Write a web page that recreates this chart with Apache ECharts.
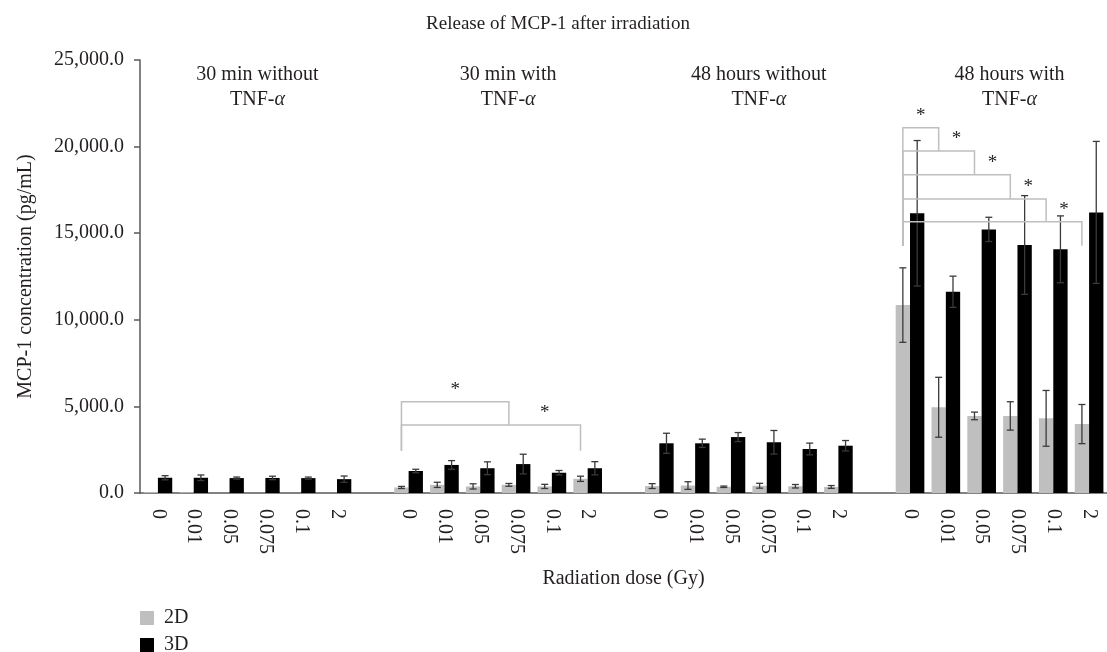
<!DOCTYPE html>
<html>
<head>
<meta charset="utf-8">
<title>Release of MCP-1 after irradiation</title>
<script src="https://cdn.jsdelivr.net/npm/echarts@6/dist/echarts.min.js"></script>
<style>
  html, body { margin: 0; padding: 0; background: #fff; }
  #chart { width: 1107px; height: 652px; }
</style>
</head>
<body>
<div id="chart"></div>
<script>
// doses per group, groups separated by an empty category
var doses = ['0', '0.01', '0.05', '0.075', '0.1', '2'];
var groupNames = ['30 min without', '30 min with', '48 hours without', '48 hours with'];
var yTicks = [0, 5000, 10000, 15000, 20000, 25000];

// 2D cultures (mean, error) per group
var mean2D = [
  [50, 40, 0, 0, 0, 0],
  [320, 470, 380, 470, 380, 820],
  [400, 430, 360, 420, 390, 350],
  [10850, 4950, 4450, 4450, 4310, 3980]
];
var err2D = [
  [0, 0, 0, 0, 0, 0],
  [60, 150, 150, 80, 120, 150],
  [140, 220, 40, 140, 100, 80],
  [2150, 1730, 220, 820, 1610, 1130]
];
// 3D cultures
var mean3D = [
  [880, 880, 860, 870, 860, 800],
  [1270, 1620, 1430, 1670, 1170, 1430],
  [2870, 2870, 3230, 2930, 2540, 2730],
  [16150, 11620, 15220, 14320, 14070, 16200]
];
var err3D = [
  [120, 160, 60, 100, 60, 180],
  [100, 250, 370, 570, 130, 380],
  [580, 240, 260, 680, 340, 300],
  [4200, 900, 700, 2850, 1930, 4100]
];

// significance brackets: [group, fromDose, toDose, top, rightBottom, leftBottom]
var brackets = [
  [1, 0, 3, 5270, 3930, 2440],
  [1, 0, 5, 3930, 2440, 2440],
  [3, 0, 1, 21090, 19750, 14280],
  [3, 0, 2, 19750, 18380, 14280],
  [3, 0, 3, 18380, 16975, 14280],
  [3, 0, 4, 16975, 15660, 14280],
  [3, 0, 5, 15660, 14280, 14280]
];

// build category axis with gaps
var cats = [];
var bars2D = [], bars3D = [], errs = [];
function catIndex(g, d) { return g * 7 + d; }
for (var g = 0; g < 4; g++) {
  for (var d = 0; d < 6; d++) {
    cats.push(doses[d]);
    bars2D.push(mean2D[g][d]);
    bars3D.push(mean3D[g][d]);
    if (err2D[g][d] > 0) errs.push([catIndex(g, d), mean2D[g][d], err2D[g][d], -0.2]);
    errs.push([catIndex(g, d), mean3D[g][d], err3D[g][d], 0.2]);
  }
  if (g < 3) { cats.push(''); bars2D.push(null); bars3D.push(null); }
}

var bracketData = [];
var prevRight = {};
brackets.forEach(function (b) {
  var from = catIndex(b[0], b[1]), to = catIndex(b[0], b[2]);
  var starFrom = prevRight[b[0]] !== undefined ? prevRight[b[0]] : from;
  prevRight[b[0]] = to;
  bracketData.push([from, to, b[3], b[4], b[5], starFrom]);
});

var font = '"Liberation Serif", "DejaVu Serif", serif';
var ink = '#231f20';
var fs = 20;
var chart = echarts.init(document.getElementById('chart'));

var option = {
  animation: false,
  textStyle: { fontFamily: font, color: ink },
  title: {
    text: 'Release of MCP-1 after irradiation',
    left: 553, top: 10, textAlign: 'center',
    textStyle: { fontFamily: font, fontSize: 19, fontWeight: 'normal', color: ink }
  },
  legend: {
    orient: 'vertical', left: 140, top: 608, height: 80, itemGap: 7, padding: 0,
    itemWidth: 14, itemHeight: 14, icon: 'rect',
    textStyle: { fontFamily: font, fontSize: fs, color: ink, padding: [0, 0, 0, 5] },
    data: ['2D', '3D']
  },
  grid: { left: 140, right: -7, top: 60, bottom: 159 },
  xAxis: {
    type: 'category', data: cats,
    name: 'Radiation dose (Gy)', nameLocation: 'middle', nameGap: 76,
    nameTextStyle: { fontFamily: font, fontSize: fs, color: ink },
    axisLine: { lineStyle: { color: '#595959', width: 1.5 } },
    axisTick: { length: 6, lineStyle: { color: '#595959', width: 1.5 } },
    axisLabel: { rotate: -90, margin: 16, interval: 0, fontFamily: font, fontSize: fs, color: ink }
  },
  yAxis: {
    type: 'value', min: 0, max: 25000, interval: 5000,
    name: 'MCP-1 concentration (pg/mL)', nameLocation: 'middle', nameGap: 104, nameRotate: 90,
    nameTextStyle: { fontFamily: font, fontSize: fs, color: ink },
    axisLine: { show: true, lineStyle: { color: '#595959', width: 1.5 } },
    axisTick: { show: true, length: 6, lineStyle: { color: '#595959', width: 1.5 } },
    splitLine: { show: false },
    axisLabel: {
      margin: 16, fontFamily: font, fontSize: fs, color: ink,
      customValues: yTicks,
      formatter: function (v) { return v.toLocaleString('en-US', { minimumFractionDigits: 1, maximumFractionDigits: 1 }); }
    }
  },
  series: [
    { name: '2D', type: 'bar', data: bars2D, barGap: '0%', barCategoryGap: '20%',
      itemStyle: { color: '#bfbfbf' } },
    { name: '3D', type: 'bar', data: bars3D, barGap: '0%', barCategoryGap: '20%',
      itemStyle: { color: '#000000' } },
    {
      type: 'custom', name: 'err', data: errs, z: 5,
      renderItem: function (params, api) {
        var x = api.value(0), m = api.value(1), e = api.value(2), off = api.value(3);
        var band = api.size([1, 0])[0];
        var hi = api.coord([x, m + e]), lo = api.coord([x, Math.max(0, m - e)]);
        var cx = hi[0] + off * band, cap = 3.5;
        var st = { stroke: '#3a3a3a', lineWidth: 1.3 };
        return { type: 'group', children: [
          { type: 'line', shape: { x1: cx, y1: hi[1], x2: cx, y2: lo[1] }, style: st },
          { type: 'line', shape: { x1: cx - cap, y1: hi[1], x2: cx + cap, y2: hi[1] }, style: st },
          { type: 'line', shape: { x1: cx - cap, y1: lo[1], x2: cx + cap, y2: lo[1] }, style: st }
        ] };
      }
    },
    {
      type: 'custom', name: 'sig', data: bracketData, z: 6,
      renderItem: function (params, api) {
        var band = api.size([1, 0])[0];
        var from = api.value(0), to = api.value(1);
        var top = api.value(2), rb = api.value(3), lb = api.value(4), sf = api.value(5);
        var a = api.coord([from, top]), b = api.coord([to, top]);
        var xl = a[0] - 0.2 * band, xr = b[0] - 0.2 * band, yt = a[1];
        var yl = api.coord([from, lb])[1], yr = api.coord([to, rb])[1];
        var xs = (api.coord([sf, top])[0] + b[0]) / 2 - 0.2 * band;
        var st = { stroke: '#bfbfbf', lineWidth: 1.5, fill: null };
        return { type: 'group', children: [
          { type: 'polyline', shape: { points: [[xl, yl], [xl, yt], [xr, yt], [xr, yr]] }, style: st },
          { type: 'text', x: xs, y: yt - 2, style: { text: '*', fontFamily: font, fontSize: 19, fill: ink, align: 'center', verticalAlign: 'bottom' } }
        ] };
      }
    }
  ]
};
chart.setOption(option);

// group titles above each group
var graphics = [];
for (var i = 0; i < groupNames.length; i++) {
  var px = chart.convertToPixel({ xAxisIndex: 0 }, catIndex(i, 2)) + chart.convertToPixel({ xAxisIndex: 0 }, catIndex(i, 3));
  graphics.push({
    type: 'text', x: px / 2 + 10, y: 62,
    style: {
      text: groupNames[i] + '\nTNF-{a|α}', align: 'center', lineHeight: 25,
      fontFamily: font, fontSize: fs, fill: ink,
      rich: { a: { fontFamily: font, fontSize: fs, fontStyle: 'italic', fill: ink, lineHeight: 25 } }
    }
  });
}
chart.setOption({ graphic: graphics });
</script>
</body>
</html>
